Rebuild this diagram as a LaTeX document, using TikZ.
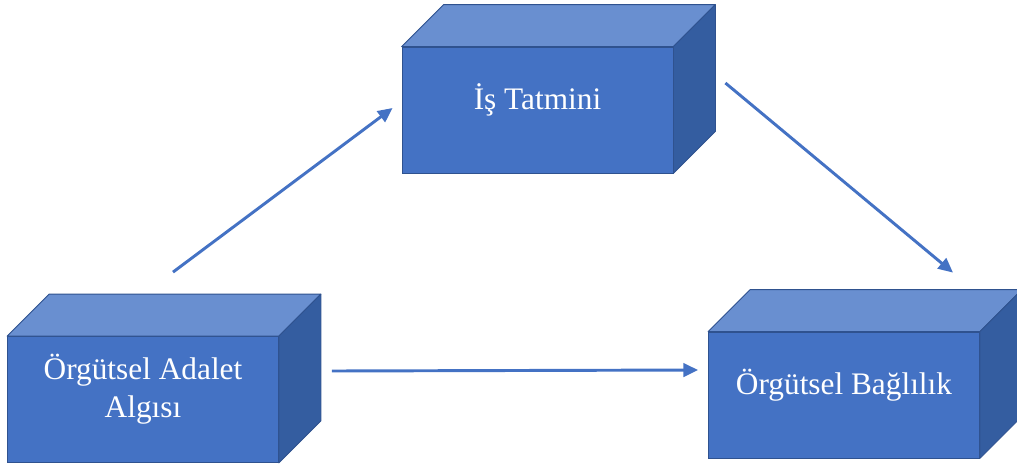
\documentclass[tikz,border=0pt]{standalone}
\usepackage{fontspec}
\setmainfont{Liberation Serif}
\usetikzlibrary{arrows.meta}

\definecolor{boxfront}{RGB}{68,114,196}
\definecolor{boxtop}{RGB}{105,143,208}
\definecolor{boxside}{RGB}{52,93,160}
\definecolor{boxedge}{RGB}{47,82,143}

\tikzset{
    face/.style = {draw=boxedge, line width=0.6pt, fill=boxfront,
                   minimum width=203.25pt, minimum height=94.5pt, inner sep=0pt},
    txt/.style  = {text=white, align=center, font=\fontsize{23.5}{28.5}\selectfont},
    arr/.style  = {-{Triangle[length=11pt, width=10pt]}, draw=boxfront, line width=2.2pt},
}

\begin{document}
\begin{tikzpicture}[x=0.75pt, y=-0.75pt]
    \useasboundingbox (0, 0) rectangle (1017, 468);

    \node[face] (adalet)   at (143, 399.5) {};
    \node[face] (tatmin)   at (537.5, 110) {};
    \node[face] (baglilik) at (844, 395)   {};

    \foreach \n in {adalet, tatmin, baglilik}
    {
        \filldraw[fill=boxtop, draw=boxedge, line width=0.6pt, line join=round]
        (\n.north west) -- ++(42, -42) -- ([shift={(42, -42)}]\n.north east)
        -- (\n.north east) -- cycle;
        \filldraw[fill=boxside, draw=boxedge, line width=0.6pt, line join=round]
        (\n.north east) -- ++(42, -42) -- ([shift={(42, -42)}]\n.south east)
        -- (\n.south east) -- cycle;
    }

    \node[txt] (adalet-t)   at ([yshift=7.5pt]adalet.center)   {Örgütsel Adalet\\Algısı};
    \node[txt] (tatmin-t)   at ([yshift=7.5pt]tatmin.center)   {İş Tatmini};
    \node[txt] (baglilik-t) at ([yshift=7.5pt]baglilik.center) {Örgütsel Bağlılık};

    %% paths
    \draw[arr] ([shift={(30, -64)}]adalet.north) -- ([shift={(-9, -2)}]tatmin.west);
    \draw[arr] ([shift={(52, -27)}]tatmin.east) -- ([shift={(109, -59)}]baglilik.north);
    \draw[arr] ([shift={(53, -28.5)}]adalet.east) -- ([shift={(-10, -25)}]baglilik.west);
\end{tikzpicture}
\end{document}
